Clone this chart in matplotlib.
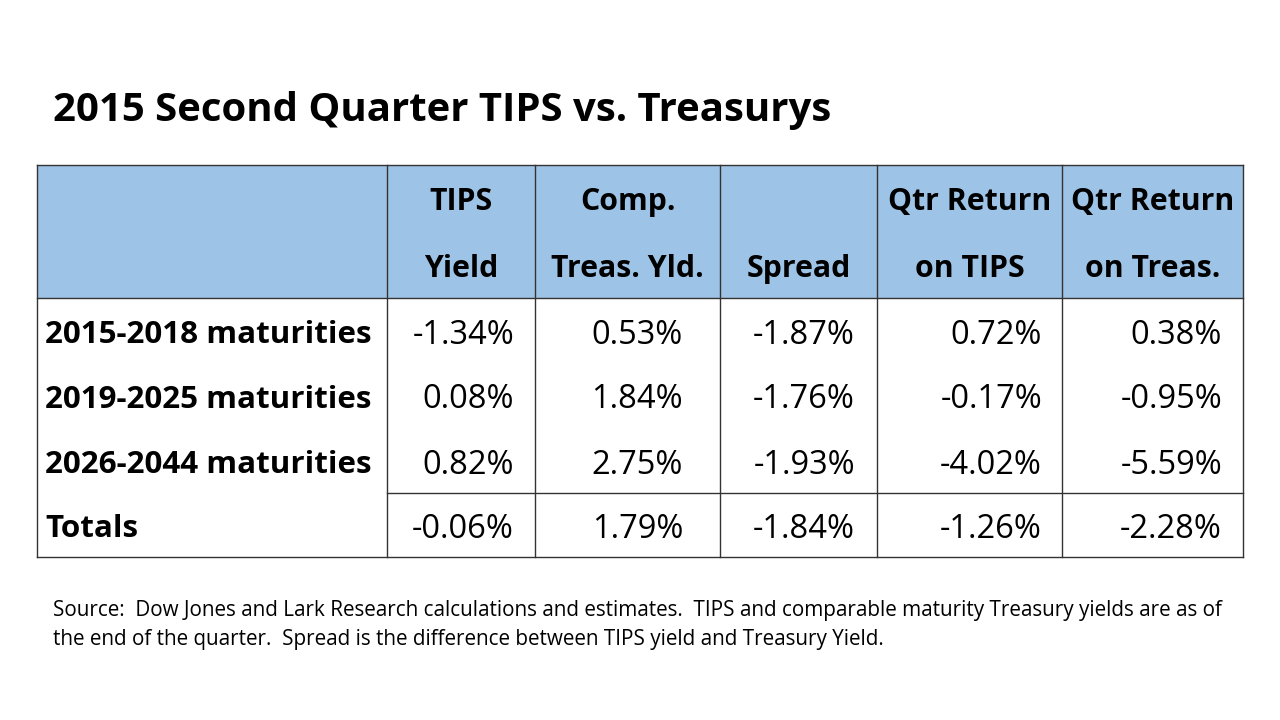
import matplotlib
matplotlib.use("Agg")
from matplotlib import pyplot as plt
from matplotlib.patches import Rectangle

# table content
title = "2015 Second Quarter TIPS vs. Treasurys"
col_headers = [("TIPS", "Yield"), ("Comp.", "Treas. Yld."), ("", "Spread"),
               ("Qtr Return", "on TIPS"), ("Qtr Return", "on Treas.")]
row_labels = ["2015-2018 maturities", "2019-2025 maturities",
              "2026-2044 maturities", "Totals"]
tips_yield = [-1.34, 0.08, 0.82, -0.06]
treas_yield = [0.53, 1.84, 2.75, 1.79]
spread = [-1.87, -1.76, -1.93, -1.84]
ret_tips = [0.72, -0.17, -4.02, -1.26]
ret_treas = [0.38, -0.95, -5.59, -2.28]
source = ("Source:  Dow Jones and Lark Research calculations and estimates.  TIPS and comparable maturity Treasury yields are as of\n"
          "the end of the quarter.  Spread is the difference between TIPS yield and Treasury Yield.")

# layout in pixels
col_x = [37, 387, 535, 720, 877, 1062, 1243]
num_right = [514, 683, 855, 1042, 1222]
y_top, y_head, y_tot, y_bot = 165, 298, 493, 557
row_y = [335, 400, 465, 529]
head_y = [202, 269]

font = "Open Sans"
fig = plt.figure(figsize=(12.8, 7.2), dpi=100)
ax = fig.add_axes([0, 0, 1, 1])
ax.set_xlim(0, 1280)
ax.set_ylim(720, 0)
ax.axis("off")

ax.text(53, 110, title, fontsize=28.9, fontweight="bold", family=font,
        va="center", ha="left")

ax.add_patch(Rectangle((col_x[0], y_top), col_x[-1] - col_x[0], y_head - y_top,
                       facecolor="#9DC3E6", edgecolor="none"))

lc = "#333333"
lw = 1.0
for x in col_x:
    ax.plot([x, x], [y_top, y_bot], color=lc, lw=lw)
for y in [y_top, y_head, y_bot]:
    ax.plot([col_x[0], col_x[-1]], [y, y], color=lc, lw=lw)
ax.plot([col_x[1], col_x[-1]], [y_tot, y_tot], color=lc, lw=lw)

for j, (l1, l2) in enumerate(col_headers):
    cx = (col_x[j + 1] + col_x[j + 2]) / 2
    ax.text(cx, head_y[0], l1, fontsize=21.8, fontweight="bold", family=font,
            ha="center", va="center")
    ax.text(cx, head_y[1], l2, fontsize=21.8, fontweight="bold", family=font,
            ha="center", va="center")

cols = [tips_yield, treas_yield, spread, ret_tips, ret_treas]
for i, lab in enumerate(row_labels):
    ax.text(45, row_y[i], lab, fontsize=22.6, fontweight="bold", family=font,
            ha="left", va="center")
    for j, vals in enumerate(cols):
        ax.text(num_right[j], row_y[i], f"{vals[i]:.2f}%", fontsize=23.5,
                family=font, ha="right", va="center")

ax.text(53, 625, source, fontsize=14.9, family=font, ha="left", va="center",
        linespacing=1.45)

fig.savefig("out.png", dpi=100)
